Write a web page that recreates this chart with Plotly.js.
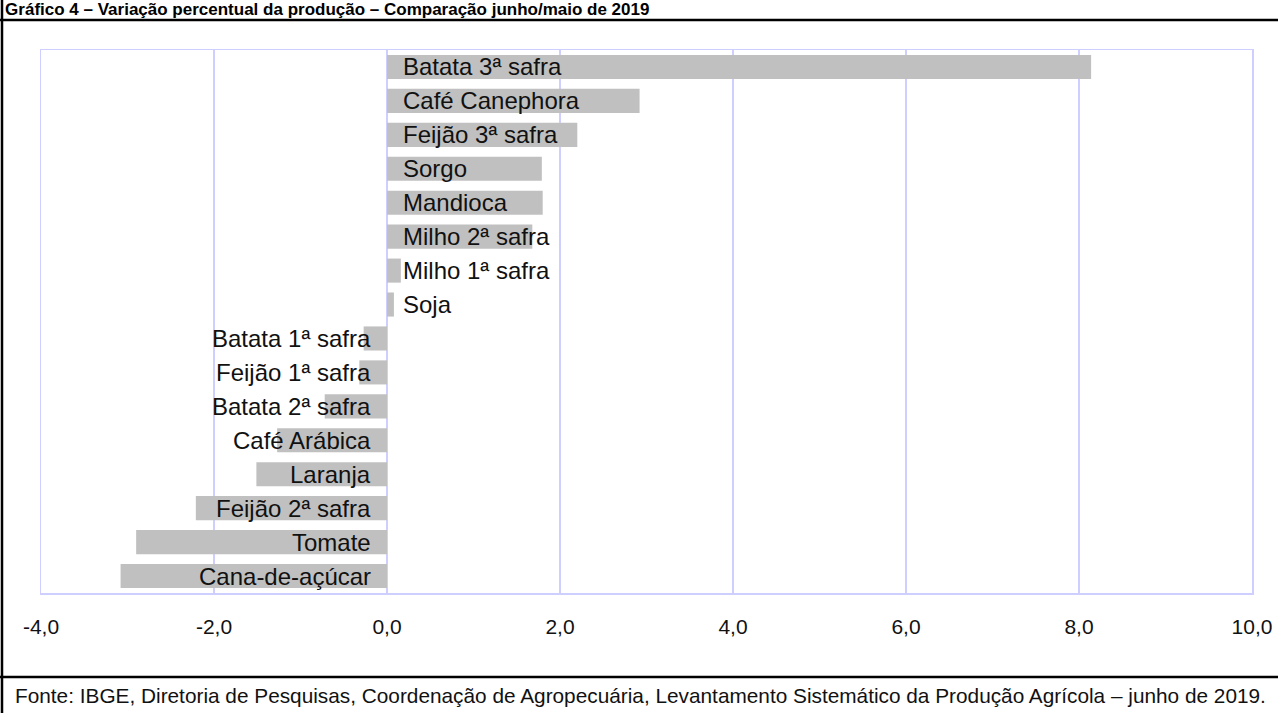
<!DOCTYPE html>
<html>
<head>
<meta charset="utf-8">
<script src="https://cdn.plot.ly/plotly-3.0.1.min.js"></script>
<style>
html,body{margin:0;padding:0;background:#fff;}
#chart{width:1278px;height:713px;}
</style>
</head>
<body>
<div id="chart"></div>
<script>
const categories = [
  "Batata 3ª safra", "Café Canephora", "Feijão 3ª safra", "Sorgo", "Mandioca",
  "Milho 2ª safra", "Milho 1ª safra", "Soja", "Batata 1ª safra", "Feijão 1ª safra",
  "Batata 2ª safra", "Café Arábica", "Laranja", "Feijão 2ª safra", "Tomate", "Cana-de-açúcar"
];
const values = [8.14, 2.92, 2.20, 1.79, 1.80, 1.68, 0.16, 0.08, -0.27, -0.32, -0.72, -1.27, -1.51, -2.21, -2.90, -3.08];
const tickVals = [-4, -2, 0, 2, 4, 6, 8, 10];
const tickLabels = ["-4,0", "-2,0", "0,0", "2,0", "4,0", "6,0", "8,0", "10,0"];
const titleText = "Gráfico 4 – Variação percentual da produção – Comparação junho/maio de 2019";
const sourceText = "Fonte: IBGE, Diretoria de Pesquisas, Coordenação de Agropecuária, Levantamento Sistemático da Produção Agrícola – junho de 2019.";

const FONT = "Arial, 'Liberation Sans', sans-serif";
const grid = "#cfcfff";

const annotations = categories.map((c, i) => ({
  x: 0, y: c, xref: "x", yref: "y",
  text: c, showarrow: false,
  xanchor: values[i] >= 0 ? "left" : "right",
  xshift: values[i] >= 0 ? 14 : -14,
  font: {family: FONT, size: 24, color: "#111"}
}));
annotations.push({
  xref: "paper", yref: "paper", x: -0.0235, y: -0.188,
  xanchor: "left", yanchor: "middle", showarrow: false,
  text: sourceText, font: {family: FONT, size: 20.8, color: "#111"}
});

// paper-coordinate helpers: plot area x 41..1252, y 50..593
const px = v => (v - 41) / 1211;
const py = v => (593 - v) / 543;

const shapes = [
  {type: "line", xref: "paper", yref: "paper", x0: px(0), x1: px(1278), y0: py(20), y1: py(20), line: {color: "#000", width: 2.5}},
  {type: "line", xref: "paper", yref: "paper", x0: px(0), x1: px(1278), y0: py(677), y1: py(677), line: {color: "#000", width: 2.5}},
  {type: "line", xref: "paper", yref: "paper", x0: px(2), x1: px(2), y0: py(0), y1: py(713), line: {color: "#000", width: 2.5}}
];

Plotly.newPlot("chart", [{
  type: "bar", orientation: "h",
  x: values, y: categories,
  marker: {color: "#c0c0c0", line: {width: 0}},
  hoverinfo: "none"
}], {
  width: 1278, height: 713,
  margin: {l: 41, r: 26, t: 50, b: 120},
  paper_bgcolor: "#fff", plot_bgcolor: "#fff",
  separators: ", ",
  bargap: 0.29,
  showlegend: false,
  title: {
    text: "<b>" + titleText + "</b>",
    xref: "container", yref: "container", x: 0.004, xanchor: "left",
    y: 0.987, yanchor: "middle",
    font: {family: FONT, size: 17, color: "#000"}
  },
  xaxis: {
    range: [-4, 10], tickvals: tickVals, ticktext: tickLabels,
    showgrid: true, gridcolor: grid, gridwidth: 1.5,
    zeroline: true, zerolinecolor: grid, zerolinewidth: 1.5,
    showline: true, linecolor: grid, linewidth: 1.5, mirror: true,
    ticks: "", ticklabelstandoff: 14,
    tickfont: {family: FONT, size: 21, color: "#111"},
    fixedrange: true
  },
  yaxis: {
    type: "category", autorange: "reversed",
    range: [15.5, -0.5],
    showticklabels: false, showgrid: false, zeroline: false,
    showline: true, linecolor: grid, linewidth: 1.5, mirror: true,
    ticks: "", fixedrange: true
  },
  annotations: annotations,
  shapes: shapes
}, {staticPlot: true, displayModeBar: false});
</script>
</body>
</html>
